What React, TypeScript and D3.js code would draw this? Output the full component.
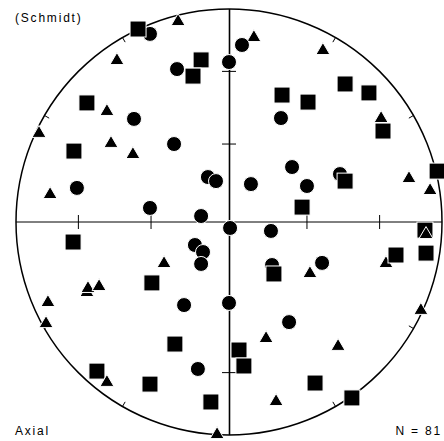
import React from "react";
import * as d3 from "d3";

// net coordinates (east, north) on the unit equal-area circle
const circles: [number, number][] = [
  [-0.371, 0.883], [-0.244, 0.718], [0, 0.751], [0.061, 0.831], [0.244, 0.488],
  [-0.446, 0.484], [-0.258, 0.366], [-0.714, 0.16], [-0.099, 0.211], [-0.061, 0.192],
  [-0.371, 0.066], [-0.131, 0.028], [0.005, -0.028], [0.103, 0.178], [0.296, 0.258],
  [0.366, 0.169], [0.521, 0.225], [0.197, -0.042], [-0.16, -0.108], [-0.122, -0.141],
  [-0.131, -0.197], [0.202, -0.202], [0.437, -0.192], [-0.211, -0.39], [-0.146, -0.69],
  [0, -0.38], [0.282, -0.47],
];

const squares: [number, number][] = [
  [-0.427, 0.906], [-0.131, 0.761], [-0.169, 0.685], [0.249, 0.596], [0.371, 0.563],
  [0.545, 0.648], [0.657, 0.606], [0.723, 0.427], [-0.667, 0.559], [-0.728, 0.333],
  [0.545, 0.192], [0.343, 0.07], [0.977, 0.239], [-0.732, -0.094], [0.92, -0.038],
  [0.211, -0.244], [0.784, -0.155], [0.925, -0.146], [-0.362, -0.286], [-0.254, -0.573],
  [-0.62, -0.7], [-0.371, -0.761], [-0.085, -0.845], [0.047, -0.601], [0.07, -0.676],
  [0.404, -0.756], [0.577, -0.826],
];

const triangles: [number, number][] = [
  [-0.239, 0.948], [-0.526, 0.765], [0.117, 0.873], [0.441, 0.812], [0.714, 0.493],
  [-0.573, 0.526], [-0.892, 0.423], [-0.554, 0.376], [-0.451, 0.324], [-0.84, 0.136],
  [0.845, 0.211], [0.944, 0.155], [-0.305, -0.188], [0.38, -0.235], [0.737, -0.188],
  [-0.667, -0.324], [-0.662, -0.305], [-0.61, -0.296], [-0.85, -0.371], [-0.859, -0.47],
  [-0.056, -0.991], [0.174, -0.54], [0.512, -0.577], [0.221, -0.836], [0.901, -0.408],
];

// triangles lying on top of squares
const trianglesTop: [number, number][] = [
  [0.925, -0.052], [-0.573, -0.746],
];

const rimTicks = [30, 60, 120, 150, 210, 240, 300, 330];
const axisTicks = [30, 60];

const cx = 229;
const cy = 222;
const R = 213;

export default function App() {
  const x = d3.scaleLinear().domain([-1, 1]).range([cx - R, cx + R]);
  const y = d3.scaleLinear().domain([-1, 1]).range([cy + R, cy - R]);

  const eqArea = (deg: number) => Math.SQRT2 * Math.sin((deg * Math.PI) / 360);
  const tickR = axisTicks.flatMap(a => [eqArea(a), -eqArea(a)]);

  const tri = (px: number, py: number) =>
    `M${px},${py - 6.5}L${px + 7},${py + 5.5}L${px - 7},${py + 5.5}Z`;

  const markStyle = {fill: "#000", stroke: "#fff", strokeWidth: 1};

  const drawTriangles = (list: [number, number][], key: string) =>
    list.map((d, i) => <path key={key + i} d={tri(x(d[0]), y(d[1]))} {...markStyle} />);

  const font = {fontFamily: "'Liberation Sans', Arial, sans-serif", fontSize: 12, letterSpacing: 1.8};

  return (
    <svg width={444} height={441} style={{position: "absolute", left: 0, top: 0, background: "#fff"}}>
      <circle cx={x(0)} cy={y(0)} r={x(1) - x(0)} fill="none" stroke="#000" strokeWidth={1.5} />
      <line x1={x(-1)} x2={x(1)} y1={y(0)} y2={y(0)} stroke="#000" strokeWidth={1} />
      <line x1={x(0) + 0.5} x2={x(0) + 0.5} y1={y(1)} y2={y(-1)} stroke="#000" strokeWidth={1.6} />
      {tickR.map((r, i) => (
        <g key={"at" + i}>
          <line x1={x(r)} x2={x(r)} y1={y(0) - 7} y2={y(0) + 7} stroke="#000" strokeWidth={1} />
          <line x1={x(0) - 7} x2={x(0) + 7} y1={y(r)} y2={y(r)} stroke="#000" strokeWidth={1} />
        </g>
      ))}
      {rimTicks.map(az => {
        const a = (az * Math.PI) / 180;
        const s = Math.sin(a);
        const c = Math.cos(a);
        return (
          <line key={"rt" + az} x1={x(s)} y1={y(c)} x2={x(s * 0.975)} y2={y(c * 0.975)}
            stroke="#000" strokeWidth={1} />
        );
      })}
      {drawTriangles(triangles, "t")}
      {circles.map((d, i) => <circle key={"c" + i} cx={x(d[0])} cy={y(d[1])} r={7.5} {...markStyle} />)}
      {squares.map((d, i) => (
        <rect key={"s" + i} x={x(d[0]) - 8} y={y(d[1]) - 8} width={16} height={16} {...markStyle} />
      ))}
      {drawTriangles(trianglesTop, "tt")}
      <text x={15} y={22} {...font}>(Schmidt)</text>
      <text x={15} y={435} {...font}>Axial</text>
      <text x={442} y={435} textAnchor="end" {...font}>N = 81</text>
    </svg>
  );
}
